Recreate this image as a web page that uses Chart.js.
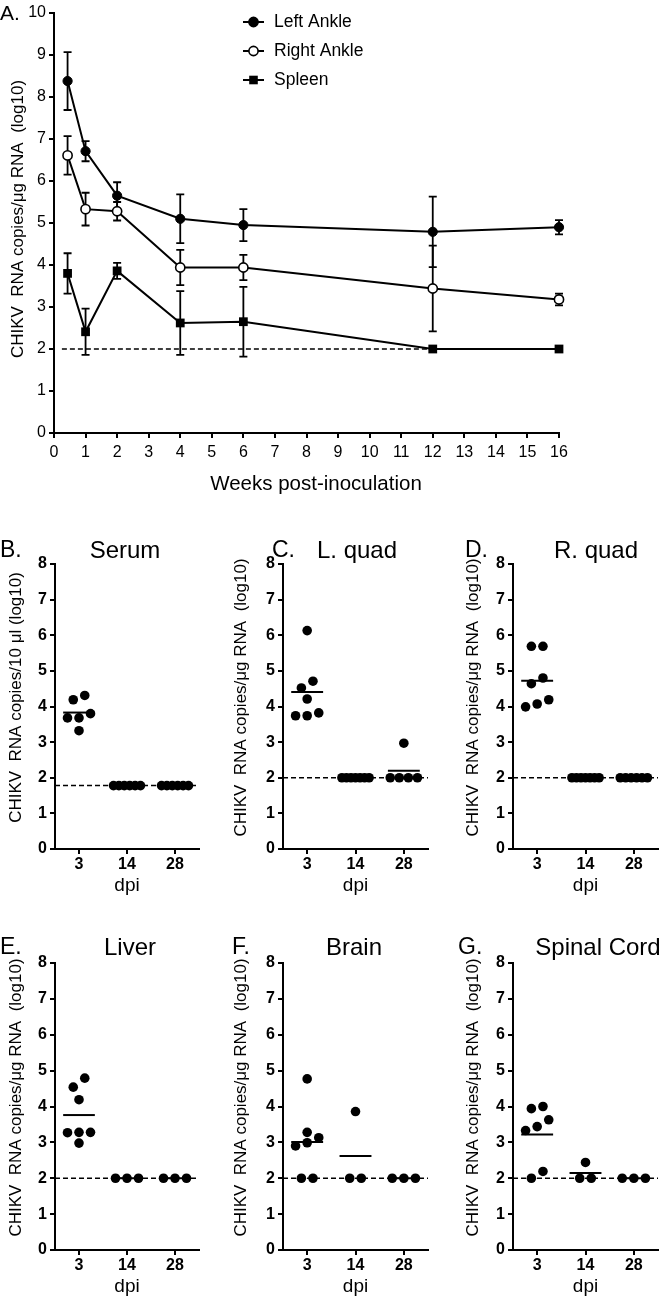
<!DOCTYPE html>
<html><head><meta charset="utf-8">
<script src="https://cdn.jsdelivr.net/npm/chart.js@4.4.1/dist/chart.umd.min.js"></script>
<style>
html,body{margin:0;padding:0;background:#fff;}
body{width:666px;height:1299px;position:relative;overflow:hidden;font-family:'Liberation Sans',Arial,sans-serif;}
canvas{position:absolute;}
.t{position:absolute;line-height:1;color:#000;white-space:nowrap;}
</style></head><body>
<canvas id="cA" width="666" height="510" style="left:0;top:0"></canvas>
<canvas id="cB" width="207" height="377" style="left:8px;top:520px"></canvas>
<canvas id="cC" width="207" height="377" style="left:233px;top:520px"></canvas>
<canvas id="cD" width="201" height="377" style="left:465px;top:520px"></canvas>
<canvas id="cE" width="207" height="383" style="left:8px;top:915px"></canvas>
<canvas id="cF" width="207" height="383" style="left:233px;top:915px"></canvas>
<canvas id="cG" width="201" height="383" style="left:465px;top:915px"></canvas>

<div class="t" style="left:0;top:2px;font-size:21px">A.</div>
<div class="t" style="left:316px;top:473px;font-size:20.5px;transform:translateX(-50%)">Weeks post-inoculation</div>
<div class="t" style="left:0;top:538px;font-size:23px">B.</div>
<div class="t" style="left:125px;top:538px;font-size:24px;transform:translateX(-50%)">Serum</div>
<div class="t" style="left:272px;top:538px;font-size:23px">C.</div>
<div class="t" style="left:357px;top:538px;font-size:24px;transform:translateX(-50%)">L. quad</div>
<div class="t" style="left:465px;top:538px;font-size:23px">D.</div>
<div class="t" style="left:596px;top:538px;font-size:24px;transform:translateX(-50%)">R. quad</div>
<div class="t" style="left:0;top:935px;font-size:23px">E.</div>
<div class="t" style="left:130px;top:935px;font-size:24px;transform:translateX(-50%)">Liver</div>
<div class="t" style="left:232px;top:935px;font-size:23px">F.</div>
<div class="t" style="left:354px;top:935px;font-size:24px;transform:translateX(-50%)">Brain</div>
<div class="t" style="left:458px;top:935px;font-size:23px">G.</div>
<div class="t" style="left:598px;top:935px;font-size:24px;transform:translateX(-50%)">Spinal Cord</div>

<script>
// ---------- Panel A data ----------
const weeks = [0.43, 1, 2, 4, 6, 12, 16];
const weekTicks = [0,1,2,3,4,5,6,7,8,9,10,11,12,13,14,15,16];
const leftAnkle = [8.38, 6.71, 5.65, 5.10, 4.95, 4.79, 4.90];
const leftAnkleSem = [0.69, 0.24, 0.32, 0.58, 0.38, 0.84, 0.17];
const rightAnkle = [6.61, 5.33, 5.28, 3.94, 3.94, 3.44, 3.18];
const rightAnkleSem = [0.46, 0.39, 0.22, 0.42, 0.30, 1.02, 0.14];
const spleen = [3.80, 2.41, 3.86, 2.62, 2.65, 2.00, 2.00];
const spleenSem = [0.48, 0.55, 0.19, 0.76, 0.83, 0, 0];
const lodA = 2;
const seriesNames = ['Left Ankle', 'Right Ankle', 'Spleen'];

// ---------- Panels B-G data ----------
const dpiLabels = ['3', '14', '28'];
const serumD3 = [4.19, 4.31, 3.68, 3.68, 3.80, 3.32];
const serumD14 = [1.78, 1.78, 1.78, 1.78, 1.78, 1.78];
const serumD28 = [1.78, 1.78, 1.78, 1.78, 1.78, 1.78];
const serumLod = 1.78;
const lquadD3 = [6.13, 4.52, 4.71, 4.21, 3.82, 3.74, 3.74];
const lquadD14 = [2, 2, 2, 2, 2, 2, 2];
const lquadD28 = [2, 2, 2, 2, 2.97];
const rquadD3 = [5.69, 5.69, 4.80, 4.64, 4.19, 3.99, 4.07];
const rquadD14 = [2, 2, 2, 2, 2, 2, 2];
const rquadD28 = [2, 2, 2, 2, 2, 2];
const liverD3 = [4.79, 4.54, 4.19, 3.28, 3.28, 3.27, 2.98];
const liverD14 = [2, 2, 2];
const liverD28 = [2, 2, 2];
const brainD3 = [4.77, 3.28, 3.13, 2.99, 2.90, 2.00, 2.00];
const brainD14 = [3.86, 2, 2];
const brainD28 = [2, 2, 2];
const spinalD3 = [4.00, 3.94, 3.63, 3.44, 3.33, 2.19, 2.00];
const spinalD14 = [2.44, 2, 2];
const spinalD28 = [2, 2, 2];
const tissueLod = 2;
const yTitleTissue = 'CHIKV  RNA copies/\u03bcg RNA  (log10)';
const yTitleSerum = 'CHIKV  RNA copies/10 \u03bcl (log10)';

// ---------- common ----------
const FAM = "'Liberation Sans', Arial, sans-serif";
Chart.defaults.font.family = FAM;
Chart.defaults.color = '#000';

const errorBars = {
  id: 'errorBars',
  beforeDatasetsDraw(chart) {
    const {ctx, scales: {x, y}} = chart;
    ctx.save();
    ctx.strokeStyle = '#000';
    ctx.lineWidth = 1.8;
    chart.data.datasets.forEach(ds => {
      if (!ds.err) return;
      ds.data.forEach((p, i) => {
        const e = ds.err[i];
        if (!e) return;
        const px = x.getPixelForValue(p.x);
        const y1 = y.getPixelForValue(p.y + e), y2 = y.getPixelForValue(p.y - e);
        ctx.beginPath();
        ctx.moveTo(px, y1); ctx.lineTo(px, y2);
        ctx.moveTo(px - 4, y1); ctx.lineTo(px + 4, y1);
        ctx.moveTo(px - 4, y2); ctx.lineTo(px + 4, y2);
        ctx.stroke();
      });
    });
    ctx.restore();
  }
};

const lodLine = {
  id: 'lodLine',
  beforeDatasetsDraw(chart, args, opts) {
    const {ctx, scales: {x, y}, chartArea} = chart;
    const yy = y.getPixelForValue(opts.value);
    const x0 = opts.from !== undefined ? x.getPixelForValue(opts.from) : chartArea.left;
    const x1 = opts.to !== undefined ? x.getPixelForValue(opts.to) : chartArea.right;
    ctx.save();
    ctx.strokeStyle = '#000';
    ctx.lineWidth = 1.5;
    ctx.setLineDash([5, 3]);
    ctx.beginPath(); ctx.moveTo(x0, yy); ctx.lineTo(x1, yy); ctx.stroke();
    ctx.restore();
  }
};

const legendA = {
  id: 'legendA',
  afterDraw(chart) {
    const ctx = chart.ctx;
    ctx.save();
    chart.data.datasets.forEach((ds, i) => {
      const yy = 22 + 29 * i;
      ctx.strokeStyle = '#000'; ctx.lineWidth = 2;
      ctx.beginPath(); ctx.moveTo(243, yy); ctx.lineTo(264, yy); ctx.stroke();
      ctx.beginPath();
      if (ds.pointStyle === 'rect') {
        ctx.rect(253.5 - 4.3, yy - 4.3, 8.6, 8.6);
        ctx.fillStyle = '#000'; ctx.fill();
      } else {
        ctx.arc(253.5, yy, 4.6, 0, Math.PI * 2);
        ctx.fillStyle = ds.pointBackgroundColor; ctx.fill();
        ctx.lineWidth = 1.6; ctx.stroke();
      }
      ctx.fillStyle = '#000';
      ctx.font = '17.5px ' + FAM;
      ctx.textBaseline = 'middle';
      ctx.textAlign = 'left';
      ctx.fillText(ds.label, 274, yy);
    });
    ctx.restore();
  }
};

// y-axis title drawn slightly above the axis centre (as in the original layout)
const yTitle = {
  id: 'yTitle',
  afterDraw(chart, args, opts) {
    const {ctx, scales: {y}} = chart;
    ctx.save();
    ctx.translate(y.left + opts.offset, (y.top + y.bottom) / 2 - opts.shift);
    ctx.rotate(-Math.PI / 2);
    ctx.fillStyle = '#000';
    ctx.font = '17px ' + FAM;
    ctx.textAlign = 'center';
    ctx.textBaseline = 'middle';
    ctx.fillText(opts.text, 0, 0);
    ctx.restore();
  }
};

function axisCommon() {
  return {
    grid: {drawOnChartArea: false, drawTicks: true, tickLength: 5, color: '#000', lineWidth: 2},
    border: {display: true, color: '#000', width: 2}
  };
}

// ---------- Panel A ----------
function pts(vals) { return weeks.map((w, i) => ({x: w, y: vals[i]})); }
const tickFontA = {size: 16};
new Chart(document.getElementById('cA'), {
  type: 'scatter',
  data: {
    datasets: [
      {label: seriesNames[0], data: pts(leftAnkle), err: leftAnkleSem, showLine: true, borderColor: '#000', borderWidth: 2,
       pointStyle: 'circle', pointRadius: 4.6, pointBackgroundColor: '#000', pointBorderColor: '#000', pointBorderWidth: 1, clip: false},
      {label: seriesNames[1], data: pts(rightAnkle), err: rightAnkleSem, showLine: true, borderColor: '#000', borderWidth: 2,
       pointStyle: 'circle', pointRadius: 4.6, pointBackgroundColor: '#fff', pointBorderColor: '#000', pointBorderWidth: 1.6, clip: false},
      {label: seriesNames[2], data: pts(spleen), err: spleenSem, showLine: true, borderColor: '#000', borderWidth: 2,
       pointStyle: 'rect', pointRadius: 6.2, pointBackgroundColor: '#000', pointBorderColor: '#000', pointBorderWidth: 0, clip: false}
    ]
  },
  options: {
    responsive: false, animation: false, events: [],
    layout: {padding: {top: 13, right: 107, left: 0, bottom: 0}},
    plugins: {legend: {display: false}, tooltip: {enabled: false}, lodLine: {value: lodA, from: 0.25, to: 16},
              yTitle: {text: yTitleTissue, shift: 4, offset: 18}},
    scales: {
      x: Object.assign(axisCommon(), {
        type: 'linear', min: 0, max: 16,
        afterBuildTicks: s => { s.ticks = weekTicks.map(v => ({value: v})); },
        ticks: {font: tickFontA, color: '#000', padding: 5, maxRotation: 0, autoSkip: false},
        afterFit: s => { s.height = 77; }
      }),
      y: Object.assign(axisCommon(), {
        type: 'linear', min: 0, max: 10,
        ticks: {stepSize: 1, font: tickFontA, color: '#000', padding: 3},
        afterFit: s => { s.width = 54; }
      })
    }
  },
  plugins: [errorBars, lodLine, legendA, yTitle]
});

// ---------- Panels B-G ----------
const PX_PER_CAT = 48;
function swarm(values, cat) {
  const sorted = values.slice().sort((a, b) => a - b);
  const rows = []; let row = [];
  sorted.forEach(v => {
    if (row.length && (v - row[row.length - 1] > 0.27 || v - row[0] > 0.31)) { rows.push(row); row = []; }
    row.push(v);
  });
  if (row.length) rows.push(row);
  const out = [];
  rows.forEach(r => {
    const n = r.length;
    const sp = n <= 3 ? 11.5 : 27 / (n - 1);
    r.forEach((v, i) => out.push({x: cat + (i - (n - 1) / 2) * sp / PX_PER_CAT, y: v}));
  });
  return out;
}

const meanLines = {
  id: 'meanLines',
  afterDatasetsDraw(chart, args, opts) {
    const {ctx, scales: {x, y}} = chart;
    ctx.save();
    ctx.strokeStyle = '#000'; ctx.lineWidth = 2;
    opts.groups.forEach((g, i) => {
      const m = g.reduce((a, b) => a + b, 0) / g.length;
      const yy = y.getPixelForValue(m);
      ctx.beginPath();
      ctx.moveTo(x.getPixelForValue(i - 0.33), yy);
      ctx.lineTo(x.getPixelForValue(i + 0.33), yy);
      ctx.stroke();
    });
    ctx.restore();
  }
};

function dotPanel(id, groups, lod, yTitleText, box) {
  const data = [];
  groups.forEach((g, i) => swarm(g, i).forEach(p => data.push(p)));
  new Chart(document.getElementById(id), {
    type: 'scatter',
    data: {datasets: [{data, pointRadius: 4.8, pointBackgroundColor: '#000', pointBorderWidth: 0, pointBorderColor: '#000', clip: false}]},
    options: {
      responsive: false, animation: false, events: [],
      layout: {padding: {top: box.padTop, right: box.padRight, left: 0, bottom: 0}},
      plugins: {legend: {display: false}, tooltip: {enabled: false}, lodLine: {value: lod}, meanLines: {groups},
                yTitle: {text: yTitleText, shift: 9, offset: 8.75}},
      scales: {
        x: Object.assign(axisCommon(), {
          type: 'linear', min: -0.5, max: 2.5,
          afterBuildTicks: s => { s.ticks = dpiLabels.map((l, i) => ({value: i})); },
          ticks: {font: {size: 16, weight: 'bold'}, color: '#000', padding: 1, maxRotation: 0, autoSkip: false,
                  callback: v => dpiLabels[v]},
          title: {display: true, text: 'dpi', font: {size: 19}, padding: {top: 0, bottom: 0}, color: '#000'},
          afterFit: s => { s.height = box.xH; }
        }),
        y: Object.assign(axisCommon(), {
          type: 'linear', min: 0, max: 8,
          ticks: {stepSize: 1, font: {size: 16, weight: 'bold'}, color: '#000', padding: 3},
          afterFit: s => { s.width = box.axisW; }
        })
      }
    },
    plugins: [lodLine, meanLines, yTitle]
  });
}

const row1 = {padTop: 44, xH: 48};
const row2 = {padTop: 48, xH: 48};
const col1 = {axisW: 47, padRight: 16};
const col2 = {axisW: 50, padRight: 12};
const col3 = {axisW: 48, padRight: 8};

dotPanel('cB', [serumD3, serumD14, serumD28], serumLod, yTitleSerum, Object.assign({}, row1, col1));
dotPanel('cC', [lquadD3, lquadD14, lquadD28], tissueLod, yTitleTissue, Object.assign({}, row1, col2));
dotPanel('cD', [rquadD3, rquadD14, rquadD28], tissueLod, yTitleTissue, Object.assign({}, row1, col3));
dotPanel('cE', [liverD3, liverD14, liverD28], tissueLod, yTitleTissue, Object.assign({}, row2, col1));
dotPanel('cF', [brainD3, brainD14, brainD28], tissueLod, yTitleTissue, Object.assign({}, row2, col2));
dotPanel('cG', [spinalD3, spinalD14, spinalD28], tissueLod, yTitleTissue, Object.assign({}, row2, col3));
</script>
</body></html>
